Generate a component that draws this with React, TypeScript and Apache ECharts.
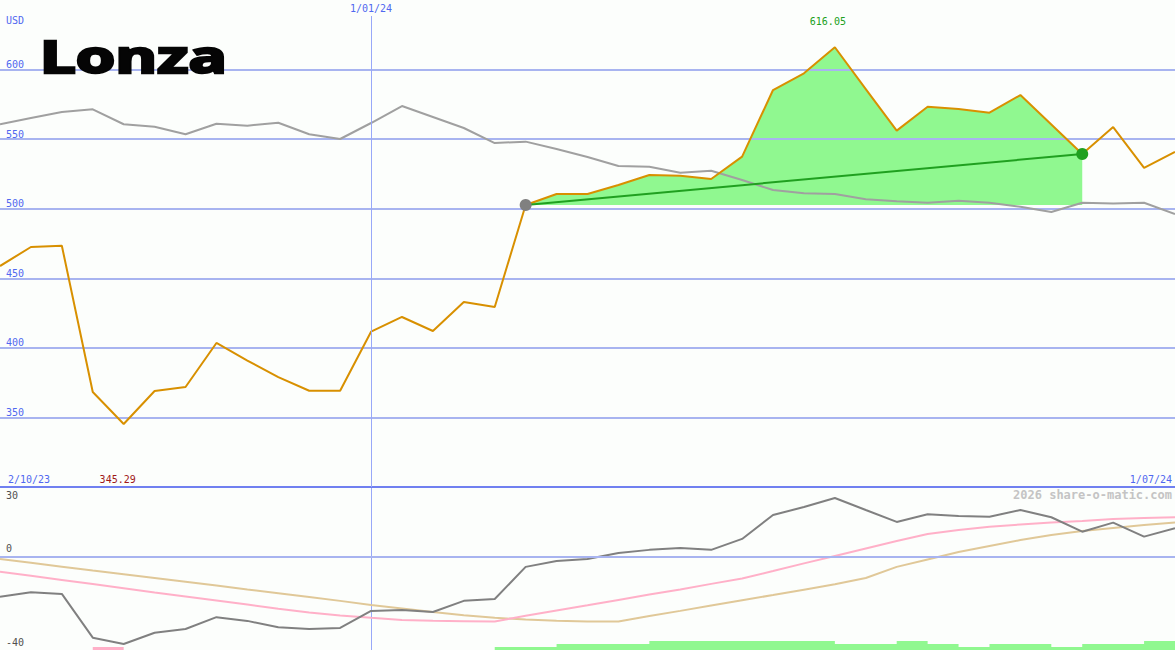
import React, { useEffect, useRef } from "react";
import * as echarts from "echarts";

const dates = [
  "9/10/23", "16/10/23", "23/10/23", "30/10/23", "6/11/23", "13/11/23", "20/11/23", "27/11/23",
  "4/12/23", "11/12/23", "18/12/23", "25/12/23", "1/01/24", "8/01/24", "15/01/24", "22/01/24",
  "29/01/24", "5/02/24", "12/02/24", "19/02/24", "26/02/24", "4/03/24", "11/03/24", "18/03/24",
  "25/03/24", "1/04/24", "8/04/24", "15/04/24", "22/04/24", "29/04/24", "6/05/24", "13/05/24",
  "20/05/24", "27/05/24", "3/06/24", "10/06/24", "17/06/24", "24/06/24", "1/07/24",
];

const prices = [
  458.8, 472.5, 473.4, 368.3, 345.29, 369.0, 371.9, 403.5, 390.9, 379.0, 369.2, 369.2, 411.6,
  422.2, 412.1, 433.0, 429.4, 502.7, 510.6, 510.6, 517.0, 524.2, 523.7, 521.4, 537.4, 585.3,
  597.3, 616.05, 586.0, 556.1, 573.3, 571.7, 569.0, 581.7, 560.5, 539.3, 558.7, 529.3, 540.8,
];

const indexLine = [
  560.7, 565.2, 569.5, 571.4, 560.7, 558.9, 553.5, 561.1, 559.7, 561.8, 553.5, 550.1, 561.6,
  573.8, 565.9, 558.0, 547.2, 548.2, 542.9, 537.2, 530.7, 530.2, 525.9, 527.3, 520.6, 513.4,
  511.1, 510.6, 506.8, 505.3, 504.3, 505.8, 504.3, 501.4, 497.6, 504.3, 503.7, 504.3, 496.2,
];

const oscillator = [
  -17.1, -15.2, -15.9, -34.7, -37.4, -32.6, -31.0, -25.9, -27.5, -30.2, -31.0, -30.5, -23.2,
  -22.8, -23.7, -18.9, -18.1, -4.3, -1.8, -0.9, 1.7, 3.0, 3.8, 3.0, 7.7, 18.0,
  21.4, 25.3, 20.1, 15.0, 18.3, 17.5, 17.2, 20.1, 17.0, 10.8, 14.7, 8.7, 12.3,
];

const fastAverage = [
  -6.4, -8.1, -9.9, -11.7, -13.5, -15.3, -17.0, -18.7, -20.5, -22.3, -23.9, -25.2, -26.2,
  -27.1, -27.4, -27.6, -27.8, -25.3, -23.0, -20.8, -18.5, -16.2, -14.0, -11.6, -9.3, -6.1,
  -2.8, 0.4, 3.6, 6.8, 9.8, 11.5, 12.9, 13.9, 14.8, 15.4, 16.3, 16.7, 17.0,
];

const slowAverage = [
  -0.9, -2.5, -4.2, -5.9, -7.5, -9.1, -10.7, -12.3, -14.0, -15.6, -17.2, -18.9, -20.7,
  -22.2, -23.7, -25.1, -26.2, -26.9, -27.4, -27.8, -27.8, -25.4, -23.2, -20.9, -18.6, -16.4,
  -14.1, -11.8, -9.1, -4.3, -1.1, 2.1, 4.7, 7.2, 9.4, 11.1, 12.4, 13.7, 14.8,
];

const greenBars = [
  0, 0, 0, 0, 0, 0, 0, 0, 0, 0, 0, 0, 0, 0, 0, 0, 1, 1, 2, 2, 2, 3, 3, 3, 3, 3, 3, 2, 2, 3,
  2, 1, 2, 2, 1, 2, 2, 3, 3,
];

const pinkBars = [
  0, 0, 0, 1, 0, 0, 0, 0, 0, 0, 0, 0, 0, 0, 0, 0, 0, 0, 0, 0, 0, 0, 0, 0, 0, 0, 0, 0, 0, 0,
  0, 0, 0, 0, 0, 0, 0, 0, 0,
];

const priceTicks = [350, 400, 450, 500, 550, 600];
const oscTicks = [30, 0, -40];
const rangeLabels = ["2/10/23", "1/07/24"];
const markedDate = "1/01/24";
const trendStart = 17;
const trendEnd = 35;

const MONO = "DejaVu Sans Mono";
const BLUE_TEXT = "#5068f0";
const GRID_BLUE = "#a8b4f0";

export default function App() {
  const ref = useRef<HTMLDivElement>(null);

  useEffect(() => {
    if (!ref.current) return;
    const chart = echarts.init(ref.current, null, { renderer: "svg" });

    const inTrend = (i: number) => i >= trendStart && i <= trendEnd;
    const base = prices.map((_, i) => (inTrend(i) ? prices[trendStart] : null));
    const gain = prices.map((v, i) => (inTrend(i) ? +(v - prices[trendStart]).toFixed(2) : null));
    const trend = prices.map((v, i) =>
      i === trendStart || i === trendEnd
        ? { value: v, itemStyle: { color: i === trendStart ? "#808080" : "#20a020" } }
        : null
    );
    const markedIndex = dates.indexOf(markedDate);

    const option: any = {
      animation: false,
      backgroundColor: "#fcfefc",
      grid: [
        { left: 0, right: 0, top: 0, height: 487 },
        { left: 0, right: 0, top: 487, height: 163 },
      ],
      xAxis: [
        {
          type: "category", gridIndex: 0, data: dates, boundaryGap: false, position: "bottom",
          axisLine: { show: true, lineStyle: { color: "#7080f0", width: 2 } },
          axisTick: { show: false }, axisLabel: { show: false }, splitLine: { show: false },
        },
        {
          type: "category", gridIndex: 0, data: dates, boundaryGap: false, position: "top",
          axisLine: { show: false }, axisTick: { show: false },
          axisLabel: {
            show: true, inside: true, margin: 3, interval: (i: number) => i === markedIndex,
            color: BLUE_TEXT, fontFamily: MONO, fontSize: 10,
          },
          splitLine: { show: false },
        },
        {
          type: "category", gridIndex: 1, data: dates, boundaryGap: false,
          axisLine: { show: false }, axisTick: { show: false }, axisLabel: { show: false },
          splitLine: {
            show: true, interval: (i: number) => i === markedIndex,
            lineStyle: { color: "#98a8f8", width: 1 },
          },
        },
      ],
      yAxis: [
        {
          type: "value", gridIndex: 0, min: 300, max: 650, interval: 50,
          axisLine: { show: false }, axisTick: { show: false },
          axisLabel: {
            inside: true, verticalAlign: "bottom", margin: 6, color: BLUE_TEXT,
            fontFamily: MONO, fontSize: 10, showMinLabel: false, showMaxLabel: false,
            formatter: (v: number) => (priceTicks.includes(v) ? String(v) : ""),
          },
          splitLine: {
            show: true, showMinLine: false, showMaxLine: false,
            lineStyle: { color: GRID_BLUE, width: 2 },
          },
        },
        {
          type: "value", gridIndex: 1, min: -40, max: 30, interval: 10,
          axisLine: { show: false }, axisTick: { show: false },
          axisLabel: {
            inside: true, verticalAlign: "bottom", margin: 6, color: "#505050",
            fontFamily: MONO, fontSize: 10, padding: [0, 0, 3, 0],
            formatter: (v: number) => (oscTicks.includes(v) && v !== 30 ? String(v) : ""),
          },
          splitLine: { show: false },
        },
        {
          type: "value", gridIndex: 1, min: 0, max: 54.33, show: false,
          splitLine: { show: false },
        },
      ],
      series: [
        {
          name: "base", type: "line", xAxisIndex: 0, yAxisIndex: 0, stack: "gain", data: base,
          symbol: "none", lineStyle: { opacity: 0 }, z: -1, silent: true,
        },
        {
          name: "gain", type: "line", xAxisIndex: 0, yAxisIndex: 0, stack: "gain", data: gain,
          symbol: "none", lineStyle: { opacity: 0 },
          areaStyle: { color: "#90f890", opacity: 1 }, z: -1, silent: true,
        },
        {
          name: "index", type: "line", xAxisIndex: 0, yAxisIndex: 0, data: indexLine,
          symbol: "none", lineStyle: { color: "#a0a0a0", width: 2 },
        },
        {
          name: "price", type: "line", xAxisIndex: 0, yAxisIndex: 0, data: prices,
          symbol: "none", lineStyle: { color: "#d89000", width: 2 },
          markLine: {
            silent: true, symbol: "none", label: { show: false },
            lineStyle: { color: "#98a8f8", width: 1, type: "solid" },
            data: [[{ xAxis: markedIndex, y: 16 }, { xAxis: markedIndex, y: 487 }]],
          },
        },
        {
          name: "trend", type: "line", xAxisIndex: 0, yAxisIndex: 0, data: trend,
          connectNulls: true, symbol: "circle", symbolSize: 12, showSymbol: true,
          lineStyle: { color: "#20a020", width: 2 },
        },
        {
          name: "greenBars", type: "line", xAxisIndex: 2, yAxisIndex: 2, data: greenBars,
          step: "end", symbol: "none", lineStyle: { width: 0, opacity: 0 },
          areaStyle: { color: "#90f890", opacity: 1 },
        },
        {
          name: "pinkBars", type: "line", xAxisIndex: 2, yAxisIndex: 2, data: pinkBars,
          step: "end", symbol: "none", lineStyle: { width: 0, opacity: 0 },
          areaStyle: { color: "#ffb0c8", opacity: 1 },
        },
        {
          name: "slow", type: "line", xAxisIndex: 2, yAxisIndex: 1, data: slowAverage,
          symbol: "none", lineStyle: { color: "#e0c898", width: 2 },
        },
        {
          name: "fast", type: "line", xAxisIndex: 2, yAxisIndex: 1, data: fastAverage,
          symbol: "none", lineStyle: { color: "#ffb0c8", width: 2 },
        },
        {
          name: "osc", type: "line", xAxisIndex: 2, yAxisIndex: 1, data: oscillator,
          symbol: "none", lineStyle: { color: "#808080", width: 2 },
          markLine: {
            silent: true, symbol: "none", label: { show: false },
            lineStyle: { color: GRID_BLUE, width: 2, type: "solid" },
            data: [{ yAxis: 0 }],
          },
        },
      ],
    };
    chart.setOption(option);

    let maxI = 0;
    let minI = 0;
    prices.forEach((v, i) => {
      if (v > prices[maxI]) maxI = i;
      if (v < prices[minI]) minI = i;
    });
    const maxX = chart.convertToPixel({ xAxisIndex: 0, yAxisIndex: 0 }, [maxI, prices[maxI]])[0];
    const minX = chart.convertToPixel({ xAxisIndex: 0, yAxisIndex: 0 }, [minI, prices[minI]])[0];
    const topY = chart.convertToPixel({ xAxisIndex: 2, yAxisIndex: 1 }, [0, oscTicks[0]])[1];
    const sepY = chart.convertToPixel({ xAxisIndex: 0, yAxisIndex: 0 }, [0, 300])[1];

    chart.setOption({
      graphic: [
        {
          type: "text", left: 38, top: 32, scaleX: 1.45,
          style: {
            text: "Lonza", font: "bold 44px 'Open Sans'", fill: "#050505",
            stroke: "#050505", lineWidth: 2.5,
          },
        },
        {
          type: "text", x: 6, y: 20,
          style: { text: "USD", font: `10px '${MONO}'`, fill: BLUE_TEXT, verticalAlign: "middle" },
        },
        {
          type: "text", x: maxX - 7, y: 21,
          style: {
            text: prices[maxI].toFixed(2), font: `10px '${MONO}'`, fill: "#20a020",
            align: "center", verticalAlign: "middle",
          },
        },
        {
          type: "text", x: minX - 6, y: sepY - 8,
          style: {
            text: prices[minI].toFixed(2), font: `10px '${MONO}'`, fill: "#a01818",
            align: "center", verticalAlign: "middle",
          },
        },
        {
          type: "text", x: 8, y: sepY - 8,
          style: { text: rangeLabels[0], font: `10px '${MONO}'`, fill: BLUE_TEXT, verticalAlign: "middle" },
        },
        {
          type: "text", x: 1172, y: sepY - 8,
          style: {
            text: rangeLabels[1], font: `10px '${MONO}'`, fill: BLUE_TEXT,
            align: "right", verticalAlign: "middle",
          },
        },
        {
          type: "text", x: 6, y: topY + 8,
          style: {
            text: String(oscTicks[0]), font: `10px '${MONO}'`, fill: "#505050", verticalAlign: "middle",
          },
        },
        {
          type: "text", x: 1172, y: topY + 8,
          style: {
            text: "2026 share-o-matic.com", font: `bold 12px '${MONO}'`, fill: "#c4c4c4",
            align: "right", verticalAlign: "middle",
          },
        },
      ],
    });

    return () => chart.dispose();
  }, []);

  return (
    <div
      ref={ref}
      style={{ position: "fixed", left: 0, top: 0, width: 1175, height: 650 }}
    />
  );
}
